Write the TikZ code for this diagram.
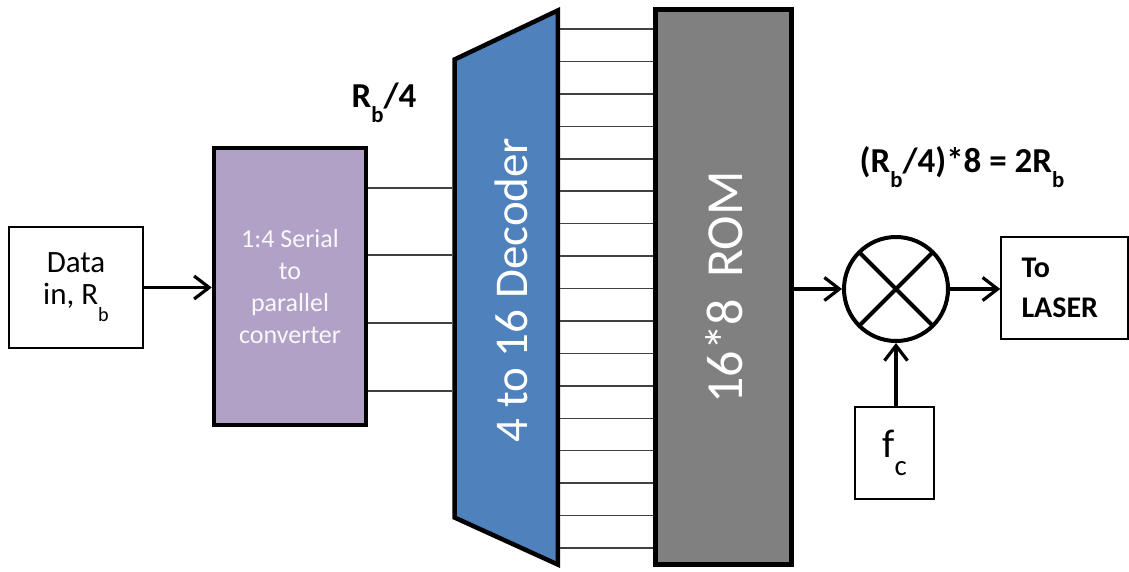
\documentclass[tikz,border=0pt]{standalone}
\usepackage{fontspec}
\setmainfont{Carlito}
\usetikzlibrary{arrows.meta}
\definecolor{lav}{HTML}{B2A1C7}
\definecolor{decblue}{HTML}{4F81BD}
\definecolor{romgray}{HTML}{808080}
\definecolor{busgray}{HTML}{404040}
\newcommand{\fsz}[2]{\fontsize{#1}{#2}\selectfont}
\newcommand{\lowsub}[3][0.65]{\raisebox{#2}{\scalebox{#1}{#3}}}
\begin{document}
\begin{tikzpicture}[x=1pt,y=-1pt,
  thinbox/.style={draw=black, line width=1.5pt, fill=white, inner sep=0pt},
  thickbox/.style={draw=black, line width=4.5pt, inner sep=0pt, line join=miter},
  bus/.style={draw=busgray, line width=1.5pt},
  arr/.style={draw=black, line width=3.2pt, -{Straight Barb[length=15pt,width=23pt]}},
  lbl/.style={font=\bfseries\fsz{35}{40}, inner sep=0pt},
  vtext/.style={rotate=90, anchor=base, text=white, inner sep=0pt},
]
\useasboundingbox (0,0) rectangle (1129,571);

% boxes
\node[thinbox, minimum width=134pt, minimum height=121pt, align=center, font=\fsz{31}{32}] (data) at (76,287.5) {Data\\in, R\lowsub{-0.55em}{b}};
\node[thickbox, fill=lav, minimum width=152pt, minimum height=277pt, align=center, font=\fsz{26}{32}, text=white!92!lav] (conv) at (290,286.5) {1:4 Serial\\to\\parallel\\converter};
\draw[thickbox, fill=decblue] (454.5,59.5) -- (557.75,10.5) -- (557.75,564.5) -- (454.5,517.5) -- cycle;
\coordinate (decL) at (452.25,287);
\coordinate (decR) at (560,287);
\node[vtext, font=\fsz{47}{47}] (dectxt) at (527,290) {4 to 16 Decoder};
\node[thickbox, fill=romgray, minimum width=136pt, minimum height=555pt] (rom) at (723.5,287) {};
\node[vtext, font=\fsz{52}{52}] (romtxt) at (742,287.5) {16*8\hspace{0.4em}ROM};

\node[circle, draw=black, line width=4pt, minimum size=104pt, inner sep=0pt, fill=white] (mix) at (896,289) {};
\draw[line width=4pt, shorten <=2pt, shorten >=2pt] (mix.45) -- (mix.225);
\draw[line width=4pt, shorten <=2pt, shorten >=2pt] (mix.135) -- (mix.315);

\node[thinbox, minimum width=127pt, minimum height=102pt, align=left, text width=86pt, inner xsep=20pt, font=\bfseries\fsz{30}{40}] (laser) at (1064.5,288) {To\\LASER};
\node[thinbox, minimum width=79pt, minimum height=92pt, font=\fsz{40}{40}] (fc) at (894.5,453) {f\lowsub[0.72]{-0.45em}{c}};

% labels
\node[lbl, anchor=base] (rate1) at (384,107) {R\lowsub{-0.45em}{b}/4};
\node[lbl, anchor=base] (rate2) at (962,172) {(R\lowsub{-0.45em}{b}/4)*8 = 2R\lowsub{-0.45em}{b}};

% buses
\foreach \y in {188,255,323,391}
  \draw[bus] (conv.east |- 0,\y) -- (decL |- 0,\y);
\foreach \i in {0,...,16}{
  \pgfmathsetmacro\yy{29+\i*32.44}
  \draw[bus] (decR |- 0,\yy) -- (rom.west |- 0,\yy);
}

% arrows
\draw[arr] (data.east) -- (conv.west |- data.east);
\draw[arr] (rom.east |- mix.west) -- (mix.west);
\draw[arr] (mix.east) -- (laser.west |- mix.east);
\draw[arr] (mix.south |- fc.north) -- (mix.south);
\end{tikzpicture}
\end{document}
